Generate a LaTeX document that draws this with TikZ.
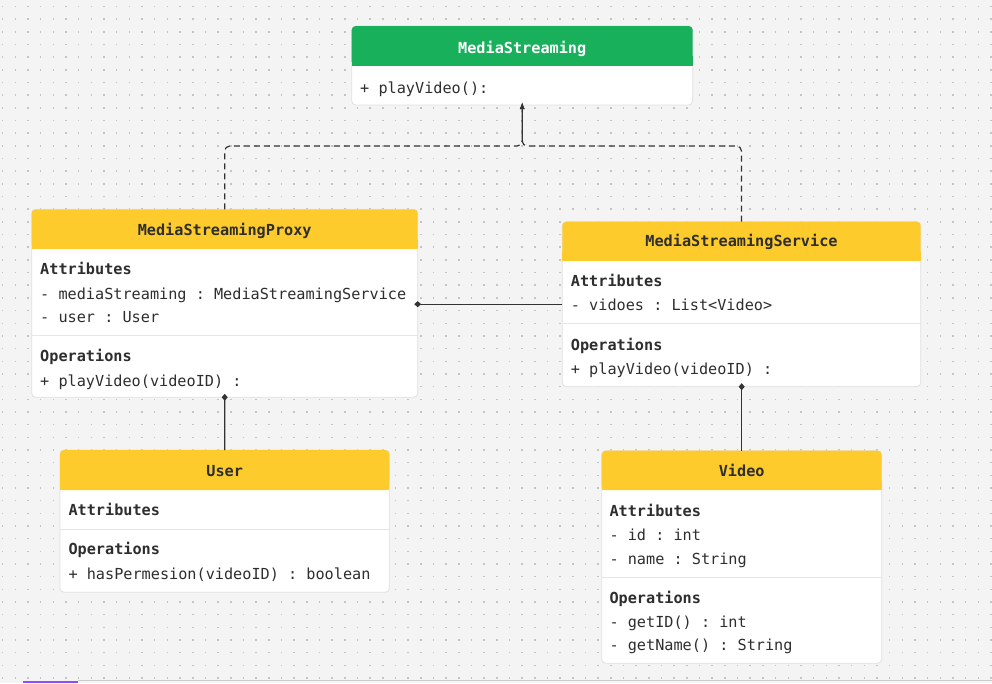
\documentclass[tikz,border=0pt]{standalone}
\usepackage{fontspec}
\setmonofont{DejaVu Sans Mono}
\usetikzlibrary{arrows.meta}

\definecolor{canvas}{HTML}{F4F4F4}
\definecolor{griddot}{HTML}{C4C4C4}
\definecolor{hdrgreen}{HTML}{19B05C}
\definecolor{hdryellow}{HTML}{FDCB2C}
\definecolor{boxline}{HTML}{E0E0E0}
\definecolor{sepgray}{HTML}{E6E6E6}
\definecolor{ink}{HTML}{2E2E2E}
\definecolor{wire}{HTML}{333333}
\definecolor{barpurple}{HTML}{9747FF}
\definecolor{barline}{HTML}{CBCBCB}

\tikzset{
  clsbox/.style={draw=boxline, line width=0.8pt, fill=white, rounded corners=4pt,
                 anchor=north west, inner sep=0pt, outer sep=0pt},
  monofont/.style={font=\fontsize{15.2}{18}\selectfont\ttfamily},
  hdrtxt/.style={monofont, font=\fontsize{15.2}{18}\selectfont\ttfamily\bfseries,
                 anchor=base, inner sep=0pt, text=ink},
  sectxt/.style={monofont, font=\fontsize{15.2}{18}\selectfont\ttfamily\bfseries,
                 anchor=base west, inner sep=0pt, text=ink},
  bodytxt/.style={monofont, anchor=base west, inner sep=0pt, text=ink},
  sepline/.style={draw=sepgray, line width=0.8pt},
  realize/.style={draw=wire, line width=1.2pt, dash pattern=on 6pt off 4pt,
                  rounded corners=5pt, -{Latex[length=7pt,width=5pt]}, shorten >=-3pt},
  compose/.style={draw=wire, line width=1.2pt, -{Diamond[length=7pt,width=6pt]},
                  shorten >=-3.5pt},
}

\begin{document}
\begin{tikzpicture}[x=1pt, y=-1pt]
  % canvas and dotted grid
  \fill[canvas] (0,0) rectangle (992,683);
  \useasboundingbox (0,0) rectangle (992,683);
  \foreach \j in {0,...,53}
    \draw[griddot, line width=1.5pt, dash pattern=on 1.5pt off 11.17pt]
      ({1.95},{6.5+12.67*\j}) -- ({992},{6.5+12.67*\j});

  % ---- MediaStreaming (interface) ----
  \node[clsbox, minimum width=341, minimum height=79] (ms) at (351.7,26) {};
  \fill[hdrgreen, rounded corners=4pt] (351.7,26) rectangle (692.7,65.7);
  \fill[hdrgreen] (351.7,56) rectangle (692.7,65.7);
  \node[hdrtxt, text=white] (msT) at (522.2,53) {MediaStreaming};
  \node[bodytxt] (msO) at (360,93) {+ playVideo():};

  % ---- MediaStreamingProxy ----
  \node[clsbox, minimum width=386, minimum height=188] (proxy) at (31.7,209.3) {};
  \fill[hdryellow, rounded corners=4pt] (31.7,209.3) rectangle (417.7,248.7);
  \fill[hdryellow] (31.7,240) rectangle (417.7,248.7);
  \node[hdrtxt] (proxyT) at (224.7,235.7) {MediaStreamingProxy};
  \node[sectxt] (proxyA) at (40,274.7) {Attributes};
  \node[bodytxt] (proxyA1) at (40,299) {- mediaStreaming : MediaStreamingService};
  \node[bodytxt] (proxyA2) at (40,322.7) {- user : User};
  \draw[sepline] (31.7,335.7) -- (417.7,335.7);
  \node[sectxt] (proxyO) at (40,361.7) {Operations};
  \node[bodytxt] (proxyO1) at (40,386) {+ playVideo(videoID) :};

  % ---- MediaStreamingService ----
  \node[clsbox, minimum width=358.4, minimum height=165] (service) at (562.3,221.7) {};
  \fill[hdryellow, rounded corners=4pt] (562.3,221.7) rectangle (920.7,260.7);
  \fill[hdryellow] (562.3,252) rectangle (920.7,260.7);
  \node[hdrtxt] (serviceT) at (741.5,246.7) {MediaStreamingService};
  \node[sectxt] (serviceA) at (570.7,286.7) {Attributes};
  \node[bodytxt] (serviceA1) at (570.7,310) {- vidoes : List<Video>};
  \draw[sepline] (562.3,323.3) -- (920.7,323.3);
  \node[sectxt] (serviceO) at (570.7,350) {Operations};
  \node[bodytxt] (serviceO1) at (570.7,374) {+ playVideo(videoID) :};

  % ---- User ----
  \node[clsbox, minimum width=329.3, minimum height=142.3] (user) at (60,450) {};
  \fill[hdryellow, rounded corners=4pt] (60,450) rectangle (389.3,490);
  \fill[hdryellow] (60,481) rectangle (389.3,490);
  \node[hdrtxt] (userT) at (224.7,476) {User};
  \node[sectxt] (userA) at (68.3,515.7) {Attributes};
  \draw[sepline] (60,529.3) -- (389.3,529.3);
  \node[sectxt] (userO) at (68.3,554.3) {Operations};
  \node[bodytxt] (userO1) at (68.3,579) {+ hasPermesion(videoID) : boolean};

  % ---- Video ----
  \node[clsbox, minimum width=280, minimum height=212.6] (video) at (601.7,450.7) {};
  \fill[hdryellow, rounded corners=4pt] (601.7,450.7) rectangle (881.7,490);
  \fill[hdryellow] (601.7,481) rectangle (881.7,490);
  \node[hdrtxt] (videoT) at (741.7,476.7) {Video};
  \node[sectxt] (videoA) at (609.3,516.7) {Attributes};
  \node[bodytxt] (videoA1) at (609.3,540) {- id : int};
  \node[bodytxt] (videoA2) at (609.3,564) {- name : String};
  \draw[sepline] (601.7,577) -- (881.7,577);
  \node[sectxt] (videoO) at (609.3,603.3) {Operations};
  \node[bodytxt] (videoO1) at (609.3,627.3) {- getID() : int};
  \node[bodytxt] (videoO2) at (609.3,650.7) {- getName() : String};

  % ---- realization (dashed, to the interface) ----
  \coordinate (join) at (522.2,146);
  \draw[realize] (proxy.north) -- (proxy.north |- join) -- (join) -- (ms.south);
  \draw[realize] (service.north) -- (service.north |- join) -- (join) -- (ms.south);

  % ---- composition links ----
  \draw[compose] (service.west) -- (service.west -| proxy.east);
  \draw[compose] (user.north) -- (proxy.south);
  \draw[compose] (video.north) -- (video.north |- service.south);

  % ---- window edge ----
  \fill[barline] (78,680) rectangle (992,681.3);
  \fill[barpurple] (22.5,680.5) rectangle (78.3,683);
\end{tikzpicture}
\end{document}
